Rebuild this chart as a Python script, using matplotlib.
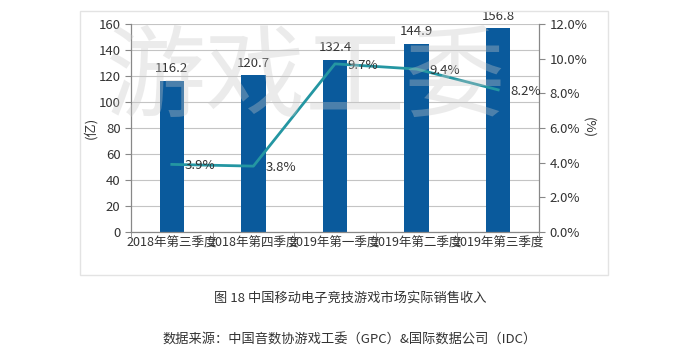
import matplotlib
matplotlib.use("Agg")
import matplotlib.pyplot as plt
from matplotlib.patches import Rectangle
from matplotlib.ticker import MultipleLocator, FuncFormatter

plt.rcParams['font.family'] = ['Noto Sans CJK SC', 'DejaVu Sans']

categories = ["2018年第三季度", "2018年第四季度", "2019年第一季度", "2019年第二季度", "2019年第三季度"]
revenue = [116.2, 120.7, 132.4, 144.9, 156.8]
growth = [3.9, 3.8, 9.7, 9.4, 8.2]
revenue_labels = ["116.2", "120.7", "132.4", "144.9", "156.8"]
growth_labels = ["3.9%", "3.8%", "9.7%", "9.4%", "8.2%"]
title = "图 18 中国移动电子竞技游戏市场实际销售收入"
source = "数据来源：中国音数协游戏工委（GPC）&国际数据公司（IDC）"
watermark = "游戏工委"

W, H = 700, 363
fig = plt.figure(figsize=(W / 100, H / 100), dpi=100)
fig.patch.set_facecolor('white')

# outer light frame
fig.patches.append(Rectangle((80 / W, 1 - 275 / H), (608 - 80) / W, (275 - 11) / H,
                             transform=fig.transFigure, fill=False,
                             edgecolor='#e3e3e3', linewidth=1.0, zorder=0))

ax = fig.add_axes([131 / W, 1 - 232 / H, (539 - 131) / W, (232 - 24) / H])
bar_color = '#0a5a9c'
line_color = '#2496a2'
grid_color = '#c4c4c4'
text_color = '#333333'

x = list(range(len(categories)))
ax.bar(x, revenue, width=0.3, color=bar_color, zorder=2)
ax.set_xlim(-0.5, len(categories) - 0.5)
ax.set_ylim(0, 160)
ax.yaxis.set_major_locator(MultipleLocator(20))
ax.grid(axis='y', color=grid_color, linewidth=0.8, zorder=0)
ax.set_axisbelow(True)

for xi, v, lab in zip(x, revenue, revenue_labels):
    ax.annotate(lab, (xi, v), xytext=(0, 4), textcoords='offset points',
                ha='center', va='bottom', fontsize=9.5, color=text_color, zorder=5)

ax.set_xticks(x)
ax.set_xticklabels(categories, fontsize=9, color=text_color)
ax.set_xticks([i - 0.5 for i in range(len(categories) + 1)], minor=True)
ax.tick_params(axis='x', which='major', length=0, pad=3)
ax.tick_params(axis='x', which='minor', length=4, color='#888888', direction='out')
ax.tick_params(axis='y', labelsize=9.5, colors=text_color, length=4, direction='out')
ax.tick_params(axis='y', color='#888888')
for s in ['top', 'right']:
    ax.spines[s].set_visible(False)
for s in ['left', 'bottom']:
    ax.spines[s].set_color('#888888')
    ax.spines[s].set_linewidth(0.9)
ax.set_ylabel("(亿)", fontsize=9.5, color=text_color, labelpad=1)

ax2 = ax.twinx()
ax2.set_ylim(0, 12)
ax2.yaxis.set_major_locator(MultipleLocator(2))
ax2.yaxis.set_major_formatter(FuncFormatter(lambda v, p: f"{v:.1f}%"))
ax2.plot(x, growth, color=line_color, linewidth=2.0, zorder=3)
for xi, v, lab in zip(x, growth, growth_labels):
    ax2.annotate(lab, (xi, v), xytext=(9, -1), textcoords='offset points',
                 ha='left', va='center', fontsize=9.5, color=text_color, zorder=5)
ax2.tick_params(axis='y', labelsize=9.5, colors=text_color, length=4, direction='out')
ax2.tick_params(axis='y', color='#888888')
for s in ['top', 'left', 'bottom']:
    ax2.spines[s].set_visible(False)
ax2.spines['right'].set_color('#888888')
ax2.spines['right'].set_linewidth(0.9)
ax2.set_ylabel("(%)", fontsize=9.5, color=text_color, rotation=270, labelpad=6)

# watermark
fig.text(305 / W, 1 - 80 / H, watermark, fontsize=72, color='#c8c8c8', alpha=0.35,
         ha='center', va='center', zorder=10, fontweight='light')

fig.text(350 / W, 1 - 298 / H, title, fontsize=9.5, color=text_color, ha='center', va='center')
fig.text(350 / W, 1 - 340 / H, source, fontsize=9.5, color=text_color, ha='center', va='center')

fig.savefig("out.png", dpi=100)
